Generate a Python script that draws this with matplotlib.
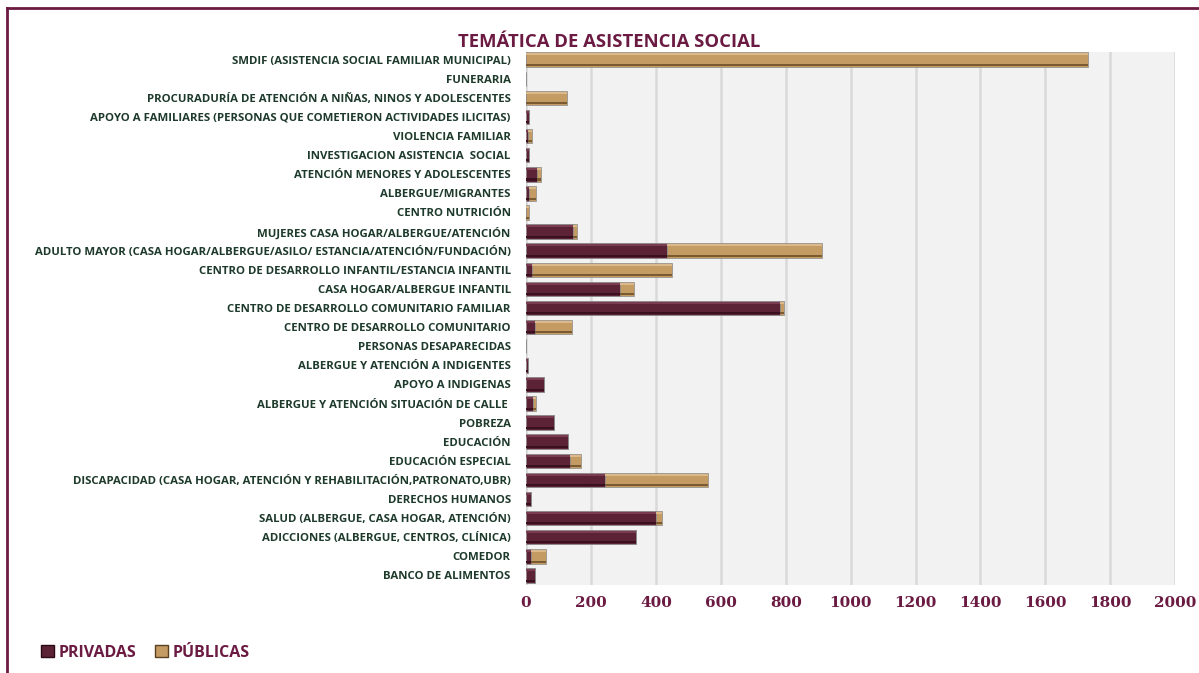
import numpy as np
import matplotlib
matplotlib.use('Agg')
import matplotlib.pyplot as plt
from matplotlib.lines import Line2D
from matplotlib.patches import Patch

# categories listed top to bottom
categorias = [
    "SMDIF (ASISTENCIA SOCIAL FAMILIAR MUNICIPAL)",
    "FUNERARIA",
    "PROCURADURÍA DE ATENCIÓN A NIÑAS, NINOS Y ADOLESCENTES",
    "APOYO A FAMILIARES (PERSONAS QUE COMETIERON ACTIVIDADES ILICITAS)",
    "VIOLENCIA FAMILIAR",
    "INVESTIGACION ASISTENCIA  SOCIAL",
    "ATENCIÓN MENORES Y ADOLESCENTES",
    "ALBERGUE/MIGRANTES",
    "CENTRO NUTRICIÓN",
    "MUJERES CASA HOGAR/ALBERGUE/ATENCIÓN",
    "ADULTO MAYOR (CASA HOGAR/ALBERGUE/ASILO/ ESTANCIA/ATENCIÓN/FUNDACIÓN)",
    "CENTRO DE DESARROLLO INFANTIL/ESTANCIA INFANTIL",
    "CASA HOGAR/ALBERGUE INFANTIL",
    "CENTRO DE DESARROLLO COMUNITARIO FAMILIAR",
    "CENTRO DE DESARROLLO COMUNITARIO",
    "PERSONAS DESAPARECIDAS",
    "ALBERGUE Y ATENCIÓN A INDIGENTES",
    "APOYO A INDIGENAS",
    "ALBERGUE Y ATENCIÓN SITUACIÓN DE CALLE ",
    "POBREZA",
    "EDUCACIÓN",
    "EDUCACIÓN ESPECIAL",
    "DISCAPACIDAD (CASA HOGAR, ATENCIÓN Y REHABILITACIÓN,PATRONATO,UBR)",
    "DERECHOS HUMANOS",
    "SALUD (ALBERGUE, CASA HOGAR, ATENCIÓN)",
    "ADICCIONES (ALBERGUE, CENTROS, CLÍNICA)",
    "COMEDOR",
    "BANCO DE ALIMENTOS",
]
privadas = [0, 0, 0, 8, 6, 8, 33, 10, 0, 144, 433, 20, 290, 783, 28, 0, 6, 55, 22,
            87, 130, 135, 243, 15, 400, 338, 15, 28]
publicas = [1730, 1, 125, 0, 12, 0, 12, 22, 8, 13, 479, 431, 43, 12, 113, 0, 0, 0, 9,
            0, 0, 33, 319, 0, 18, 0, 47, 0]

MAROON = "#5c2236"
TAN = "#c39b63"
TITLE_C = "#6b1a42"
LABEL_C = "#1e3a2c"

fig = plt.figure(figsize=(11.99, 6.73), dpi=100)
ax = fig.add_axes([0.4387, 0.1308, 0.5415, 0.7919])
ax.set_facecolor("#f2f2f2")

y = np.arange(len(categorias))
h = 0.76


def bevel_bars(left, width, base, light, dark):
    # main body plus lighter top edge and darker bottom edge
    ax.barh(y, width, left=left, height=h, color=base, edgecolor="#8a8a8a",
            linewidth=0.5, zorder=3)
    ax.barh(y - h * 0.36, width, left=left, height=h * 0.14, color=light,
            linewidth=0, zorder=4)
    ax.barh(y + h * 0.36, width, left=left, height=h * 0.14, color=dark,
            linewidth=0, zorder=4)


priv = np.array(privadas)
pub = np.array(publicas)
bevel_bars(0, priv, MAROON, "#7a3c52", "#3a1020")
bevel_bars(priv, pub, TAN, "#dcb98a", "#7a5a30")

ax.set_xlim(0, 2000)
ax.set_ylim(len(categorias) - 0.5, -0.4)
ax.set_xticks(np.arange(0, 2001, 200))
ax.set_yticks(y)
ax.set_yticklabels(categorias, fontfamily=["Open Sans", "DejaVu Sans"],
                   fontweight="bold", fontsize=8.2, color=LABEL_C)
for lab in ax.get_xticklabels():
    lab.set_fontfamily(["DejaVu Serif"])
    lab.set_fontweight("bold")
    lab.set_fontsize(11)
    lab.set_color(TITLE_C)
ax.tick_params(axis="both", length=0)
ax.tick_params(axis="x", pad=8)
ax.tick_params(axis="y", pad=11)
ax.grid(axis="x", color="#d9d9d9", linewidth=1.8, zorder=0)
ax.set_axisbelow(True)
for s in ax.spines.values():
    s.set_visible(False)
ax.axvline(0, color="#d0d0d0", linewidth=1.5, zorder=2)

fig.text(0.508, 0.937, "TEMÁTICA DE ASISTENCIA SOCIAL", ha="center", va="center",
         fontfamily=["Open Sans", "DejaVu Sans"], fontweight="bold", fontsize=13.3,
         color=TITLE_C)

# frame lines
fig.add_artist(Line2D([0.006, 1.0], [0.988, 0.988], color="#6b1a42", linewidth=2))
fig.add_artist(Line2D([0.006, 0.006], [0.0, 0.988], color="#6b1a42", linewidth=2))

handles = [Patch(facecolor=MAROON, edgecolor="#2a0a14"),
           Patch(facecolor=TAN, edgecolor="#5a4020")]
leg = fig.legend(handles, ["PRIVADAS", "PÚBLICAS"], loc="center left",
                 bbox_to_anchor=(0.022, 0.03), ncol=2, frameon=False,
                 handlelength=0.8, handleheight=0.8, handletextpad=0.3,
                 columnspacing=1.2,
                 prop={"family": ["Open Sans", "DejaVu Sans"], "weight": "bold",
                       "size": 11.5})
for t in leg.get_texts():
    t.set_color(TITLE_C)

fig.savefig("out.png", dpi=100)
